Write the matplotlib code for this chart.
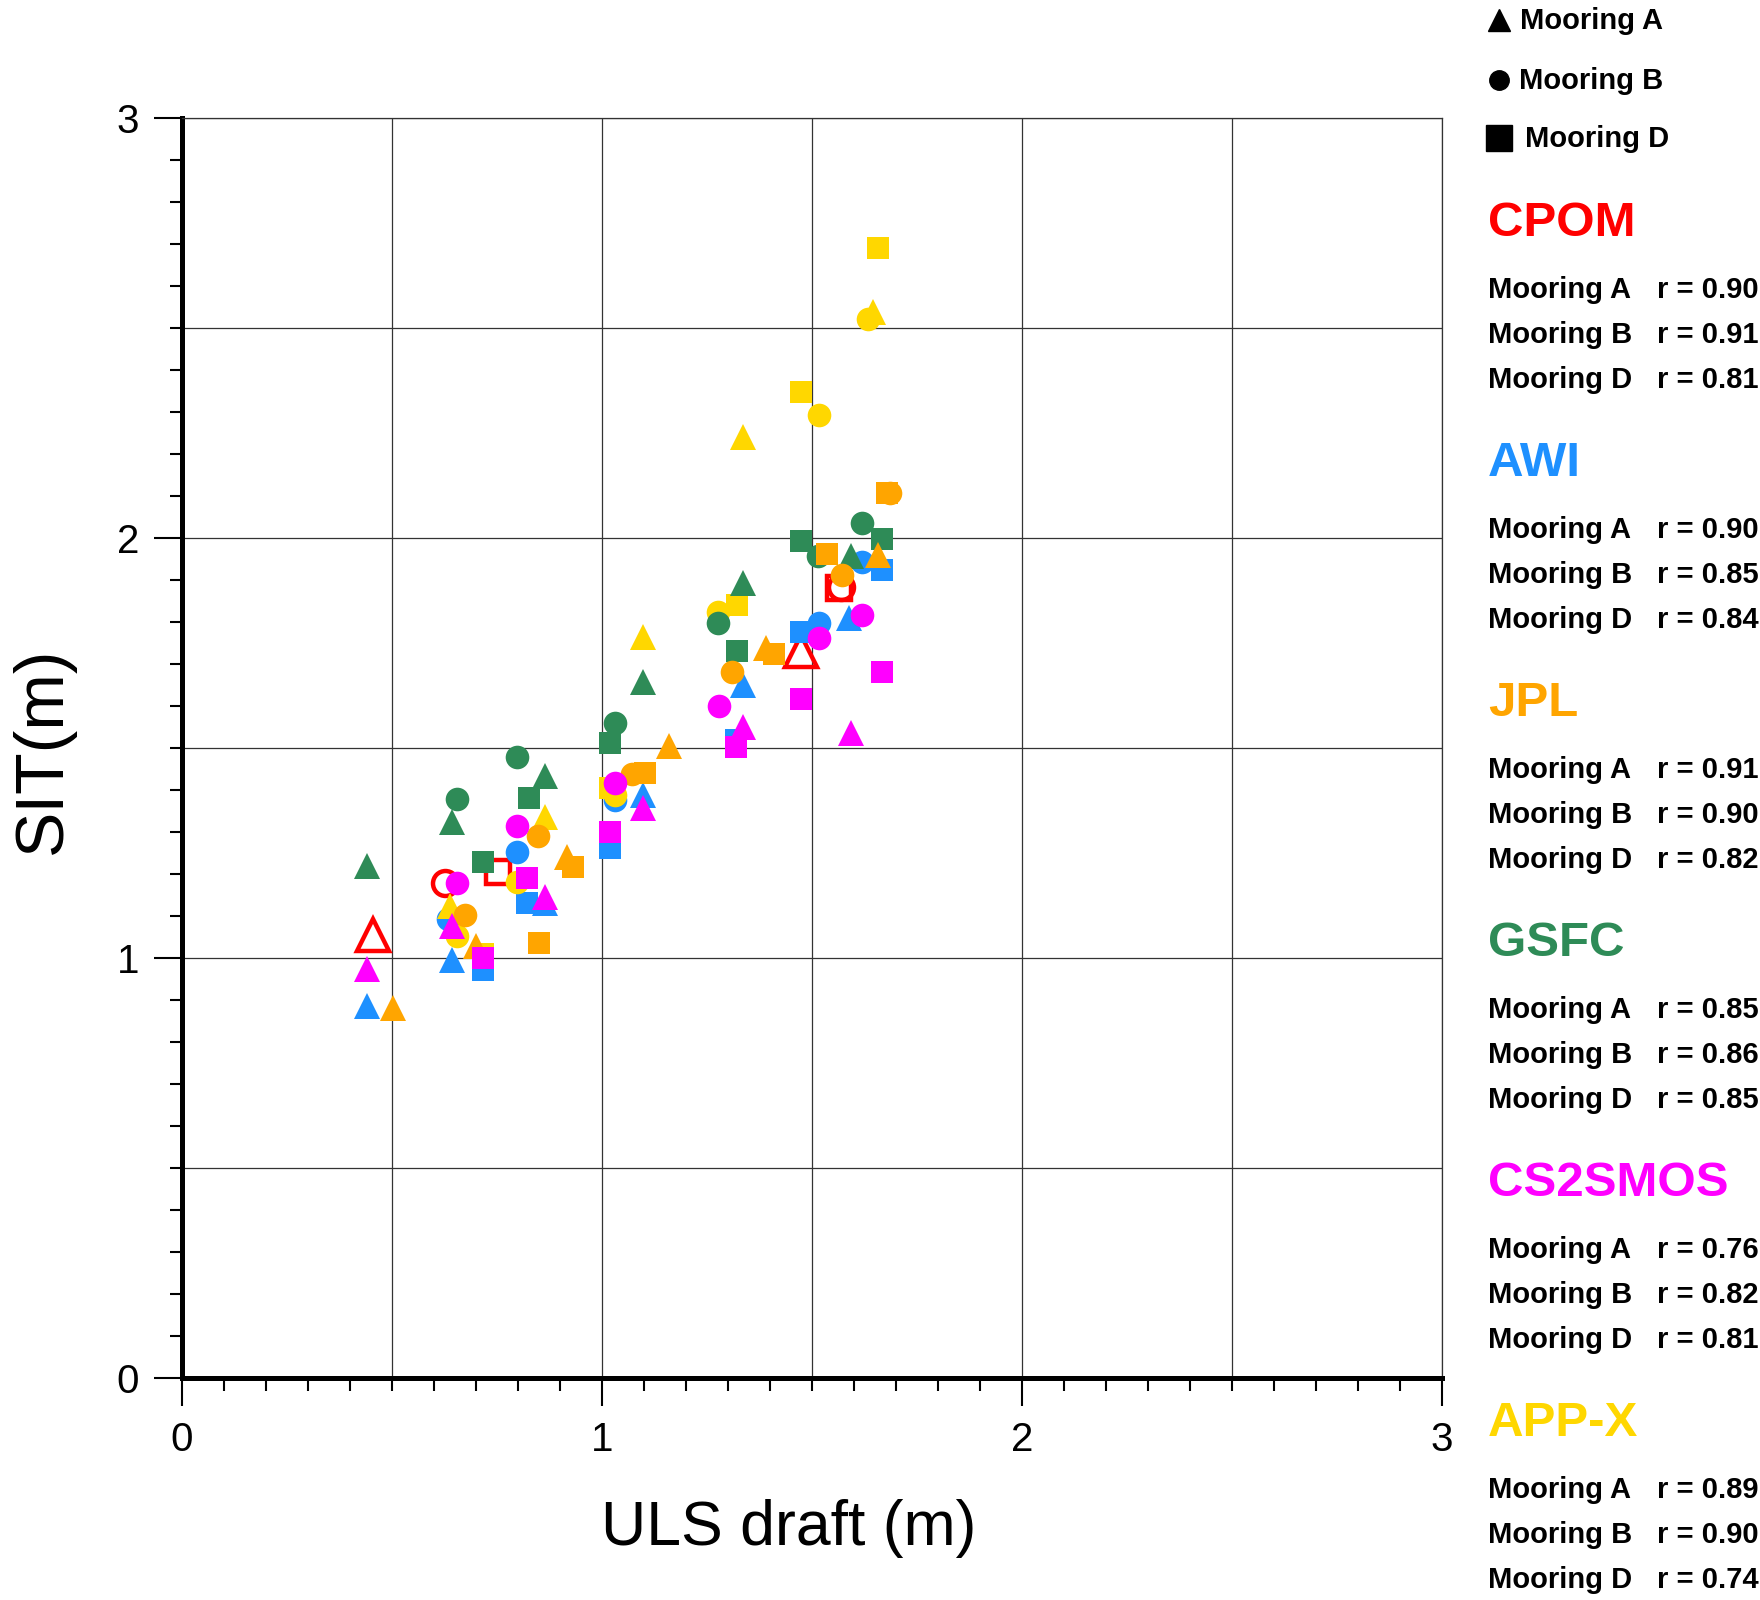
import numpy as np
import matplotlib
matplotlib.use('Agg')
import matplotlib.pyplot as plt
from matplotlib.lines import Line2D

plt.rcParams['font.family'] = ['Liberation Sans', 'DejaVu Sans']

# ---- data (ULS draft x, SIT y) ----
cpom_a_x = [0.455, 1.473]
cpom_a_y = [1.055, 1.730]
cpom_b_x = [0.626, 1.568]
cpom_b_y = [1.178, 1.884]
cpom_d_x = [0.753, 1.565]
cpom_d_y = [1.205, 1.880]

awi_a_x = [0.440, 0.644, 0.864, 1.098, 1.336, 1.587]
awi_a_y = [0.886, 0.995, 1.130, 1.388, 1.650, 1.810]
awi_b_x = [0.634, 0.797, 1.030, 1.517, 1.618]
awi_b_y = [1.094, 1.253, 1.376, 1.797, 1.944]
awi_d_x = [0.717, 0.822, 1.019, 1.320, 1.473, 1.667]
awi_d_y = [0.971, 1.130, 1.261, 1.520, 1.777, 1.925]

jpl_a_x = [0.503, 0.700, 0.916, 1.160, 1.390, 1.656]
jpl_a_y = [0.882, 1.029, 1.241, 1.504, 1.737, 1.960]
jpl_b_x = [0.674, 0.848, 1.071, 1.309, 1.571, 1.686]
jpl_b_y = [1.102, 1.290, 1.438, 1.682, 1.912, 2.108]
jpl_d_x = [0.851, 0.932, 1.102, 1.410, 1.535, 1.678]
jpl_d_y = [1.035, 1.217, 1.440, 1.724, 1.962, 2.108]

gsfc_a_x = [0.440, 0.644, 0.864, 1.098, 1.336, 1.594]
gsfc_a_y = [1.220, 1.325, 1.433, 1.656, 1.892, 1.956]
gsfc_b_x = [0.654, 0.797, 1.031, 1.277, 1.515, 1.618]
gsfc_b_y = [1.378, 1.478, 1.559, 1.797, 1.956, 2.036]
gsfc_d_x = [0.717, 0.827, 1.019, 1.322, 1.474, 1.667]
gsfc_d_y = [1.228, 1.380, 1.511, 1.730, 1.994, 1.997]

cs2_a_x = [0.440, 0.644, 0.864, 1.098, 1.336, 1.594]
cs2_a_y = [0.973, 1.076, 1.146, 1.356, 1.550, 1.535]
cs2_b_x = [0.654, 0.797, 1.030, 1.279, 1.517, 1.618]
cs2_b_y = [1.178, 1.314, 1.417, 1.600, 1.761, 1.817]
cs2_d_x = [0.717, 0.822, 1.019, 1.320, 1.473, 1.667]
cs2_d_y = [0.999, 1.190, 1.300, 1.503, 1.616, 1.682]

appx_a_x = [0.638, 0.864, 1.098, 1.336, 1.646]
appx_a_y = [1.124, 1.336, 1.765, 2.241, 2.539]
appx_b_x = [0.654, 0.797, 1.030, 1.277, 1.517, 1.634]
appx_b_y = [1.053, 1.180, 1.388, 1.825, 2.293, 2.521]
appx_d_x = [0.717, 1.019, 1.322, 1.473, 1.658]
appx_d_y = [1.010, 1.404, 1.840, 2.347, 2.690]

products = ['CPOM', 'AWI', 'JPL', 'GSFC', 'CS2SMOS', 'APP-X']
prod_colors = ['#FF0000', '#1E90FF', '#FFA500', '#2E8B57', '#FF00FF', '#FFD700']
moorings = ['Mooring A', 'Mooring B', 'Mooring D']
r_cpom = [0.90, 0.91, 0.81]
r_awi = [0.90, 0.85, 0.84]
r_jpl = [0.91, 0.90, 0.82]
r_gsfc = [0.85, 0.86, 0.85]
r_cs2 = [0.76, 0.82, 0.81]
r_appx = [0.89, 0.90, 0.74]

W, H = 1760, 1600
fig = plt.figure(figsize=(17.6, 16), dpi=100)
ax = fig.add_axes([182/W, 1 - 1378/H, (1442-182)/W, (1378-118)/H])

# grid every 0.5
for g in np.arange(0.5, 3.01, 0.5):
    ax.axvline(g, color='#333333', lw=0.9, zorder=0)
    ax.axhline(g, color='#333333', lw=0.9, zorder=0)

mk = {'^': 19, 'o': 17, 's': 16.5}

def pts(x, y, m, c):
    ax.plot(x, y, ls='none', marker=m, ms=mk[m], color=c, mec=c, mew=0, zorder=3)

# CPOM hollow markers (drawn first, underneath)
red = prod_colors[0]
ax.plot(cpom_a_x, cpom_a_y, ls='none', marker='^', ms=23, mfc='none', mec=red, mew=3.2, zorder=2)
ax.plot(cpom_b_x, cpom_b_y, ls='none', marker='o', ms=18, mfc='none', mec=red, mew=3.2, zorder=2)
ax.plot(cpom_d_x, cpom_d_y, ls='none', marker='s', ms=17, mfc='none', mec=red, mew=3.2, zorder=2)

pts(awi_a_x, awi_a_y, '^', prod_colors[1])
pts(awi_b_x, awi_b_y, 'o', prod_colors[1])
pts(awi_d_x, awi_d_y, 's', prod_colors[1])
pts(appx_a_x, appx_a_y, '^', prod_colors[5])
pts(appx_b_x, appx_b_y, 'o', prod_colors[5])
pts(appx_d_x, appx_d_y, 's', prod_colors[5])
pts(gsfc_a_x, gsfc_a_y, '^', prod_colors[3])
pts(gsfc_b_x, gsfc_b_y, 'o', prod_colors[3])
pts(gsfc_d_x, gsfc_d_y, 's', prod_colors[3])
pts(jpl_a_x, jpl_a_y, '^', prod_colors[2])
pts(jpl_b_x, jpl_b_y, 'o', prod_colors[2])
pts(jpl_d_x, jpl_d_y, 's', prod_colors[2])
pts(cs2_a_x, cs2_a_y, '^', prod_colors[4])
pts(cs2_b_x, cs2_b_y, 'o', prod_colors[4])
pts(cs2_d_x, cs2_d_y, 's', prod_colors[4])

ax.set_xlim(0, 3)
ax.set_ylim(0, 3)
ax.set_xticks([0, 1, 2, 3])
ax.set_yticks([0, 1, 2, 3])
ax.set_xticks(np.arange(0, 3.01, 0.1), minor=True)
ax.set_yticks(np.arange(0, 3.01, 0.1), minor=True)
ax.tick_params(which='major', direction='out', length=20, width=1.5, labelsize=29, pad=11, color='k')
ax.tick_params(which='minor', direction='out', length=9, width=1.5, color='k')
for s in ['left', 'bottom']:
    ax.spines[s].set_linewidth(3.6)
for s in ['top', 'right']:
    ax.spines[s].set_linewidth(0.9)
    ax.spines[s].set_color('#333333')

fig.text(789/W, 1 - 1529/H, 'ULS draft (m)', fontsize=45, ha='center', va='center')
fig.text(43/W, 1 - 750/H, 'SIT(m)', fontsize=49, ha='center', va='center', rotation=90)

# marker key at top right
key_marks = ['^', 'o', 's']
key_ms = [16, 14, 19]
key_y = [20, 80, 138]
key_tx = [1520, 1519, 1525]
for m, s, yy, tx, lab in zip(key_marks, key_ms, key_y, key_tx, moorings):
    fig.add_artist(Line2D([1499/W], [1 - yy/H], transform=fig.transFigure, marker=m,
                          ms=s, color='k', ls='none'))
    fig.text(tx/W, 1 - (yy + 1)/H, lab, fontsize=21, fontweight='bold', ha='left', va='center')

# correlation table
r_all = [r_cpom, r_awi, r_jpl, r_gsfc, r_cs2, r_appx]
for i, (name, col, rv) in enumerate(zip(products, prod_colors, r_all)):
    hy = 224 + 240*i
    fig.text(1488/W, 1 - hy/H, name, color=col, fontsize=35.5, fontweight='bold',
             ha='left', va='center')
    for j, (mname, r) in enumerate(zip(moorings, rv)):
        ry = hy + 66 + 45*j
        fig.text(1488/W, 1 - ry/H, mname, fontsize=21, fontweight='bold', ha='left', va='center')
        fig.text(1657/W, 1 - ry/H, 'r = %.2f' % r, fontsize=21, fontweight='bold', ha='left', va='center')

fig.savefig('out.png', dpi=100)
